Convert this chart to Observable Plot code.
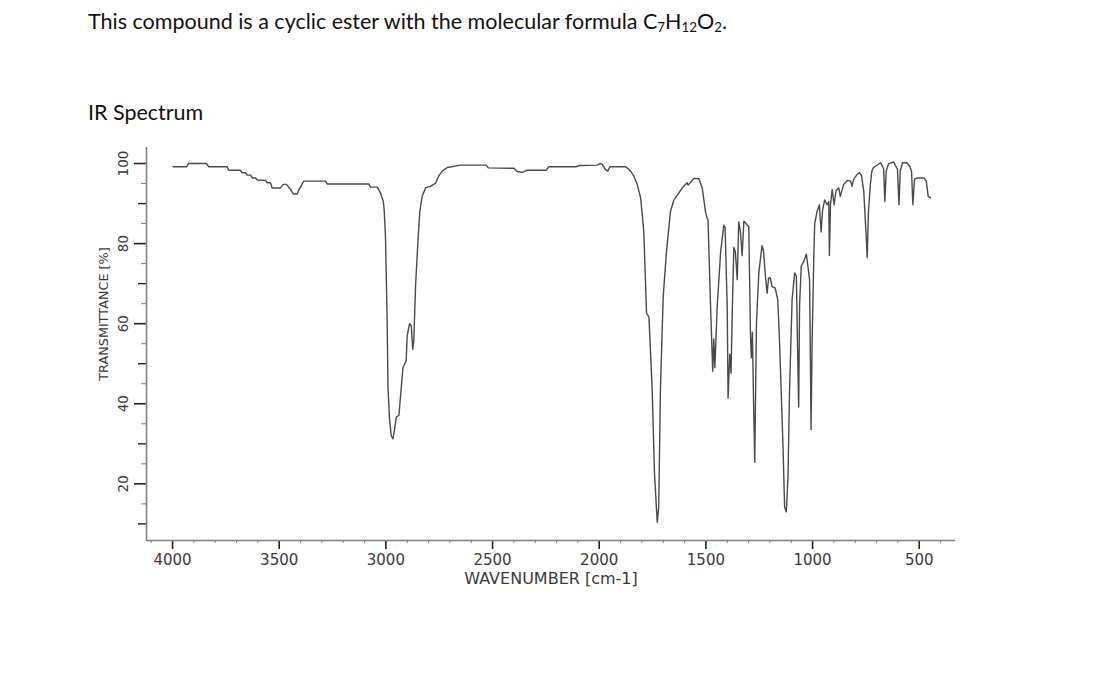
<!DOCTYPE html>
<html>
<head>
<meta charset="utf-8">
<script src="https://cdn.jsdelivr.net/npm/d3@7"></script>
<script src="https://cdn.jsdelivr.net/npm/@observablehq/plot@0.6"></script>
<style>
  html, body { margin: 0; padding: 0; background: #fff; }
  #wrap { position: relative; width: 1100px; height: 679px; overflow: hidden; }
  .hdr { position: absolute; left: 88px; font-family: Lato, "Open Sans", sans-serif; font-size: 21.5px; line-height: 21px; color: #111; white-space: nowrap; }
  .hdr sub { font-size: 0.62em; vertical-align: -0.22em; line-height: 0; }
  #title { top: 11px; }
  #subtitle { top: 102px; }
  #chart { position: absolute; left: 0; top: 140px; }
  #chart svg text { font-family: "DejaVu Sans", sans-serif; }
</style>
</head>
<body>
<div id="wrap">
  <div id="title" class="hdr">This compound is a cyclic ester with the molecular formula C<sub>7</sub>H<sub>12</sub>O<sub>2</sub>.</div>
  <div id="subtitle" class="hdr">IR Spectrum</div>
  <div id="chart"></div>
</div>
<script>
// Wavenumbers (cm-1), high to low
const wavenumbers = [
  3997, 3934, 3925, 3841, 3831, 3744, 3736, 3681, 3673, 3658, 3650, 3634, 3626, 3611, 3603, 3564,
  3556, 3541, 3533, 3494, 3481, 3466, 3447, 3434, 3416, 3403, 3385, 3283, 3275, 3080, 3072, 3040,
  3025, 3012, 3008, 3002, 2994, 2990, 2983, 2975, 2967, 2959, 2951, 2939, 2928, 2920, 2905, 2900,
  2889, 2881, 2874, 2869, 2861, 2850, 2841, 2830, 2814, 2791, 2767, 2752, 2736, 2712, 2650, 2530,
  2520, 2400, 2385, 2360, 2340, 2250, 2235, 2110, 2090, 2010, 1995, 1985, 1972, 1960, 1950, 1875,
  1853, 1838, 1822, 1806, 1798, 1791, 1778, 1767, 1752, 1741, 1728, 1721, 1713, 1700, 1685, 1666,
  1650, 1627, 1611, 1588, 1583, 1556, 1533, 1517, 1502, 1494, 1490, 1478, 1468, 1463, 1458, 1447,
  1431, 1416, 1410, 1400, 1396, 1388, 1382, 1376, 1369, 1362, 1353, 1346, 1338, 1330, 1322, 1315,
  1299, 1291, 1287, 1282, 1276, 1271, 1263, 1252, 1237, 1230, 1221, 1213, 1206, 1198, 1190, 1175,
  1163, 1155, 1139, 1131, 1123, 1115, 1108, 1096, 1084, 1076, 1068, 1065, 1061, 1053, 1040, 1029,
  1022, 1014, 1010, 1007, 1002, 994, 990, 979, 968, 960, 953, 943, 932, 924, 921, 916,
  908, 899, 890, 877, 870, 854, 835, 822, 815, 808, 791, 780, 771, 760, 748, 744,
  738, 729, 722, 714, 695, 681, 667, 661, 655, 644, 620, 611, 602, 595, 589, 578,
  559, 545, 536, 530, 522, 509, 478, 467, 458, 447
];
// Transmittance (%) at each wavenumber above
const transmittance = [
  99.2, 99.2, 100.0, 100.0, 99.2, 99.2, 98.3, 98.3, 97.7, 97.7, 97.1, 97.1, 96.4, 96.4, 95.9, 95.8,
  95.2, 95.2, 93.9, 93.9, 94.8, 94.8, 93.5, 92.4, 92.4, 93.9, 95.6, 95.6, 94.9, 94.9, 94.1, 94.1,
  92.6, 90.5, 88.4, 82.0, 60.8, 43.9, 36.3, 32.0, 31.2, 33.7, 36.7, 37.1, 43.9, 49.0, 50.7, 57.0,
  60.0, 59.5, 53.6, 55.8, 69.3, 80.3, 88.0, 91.8, 93.9, 94.3, 95.1, 96.9, 98.1, 99.0, 99.6, 99.6,
  98.9, 98.8, 98.0, 97.8, 98.3, 98.3, 99.2, 99.2, 99.5, 99.6, 100.0, 99.8, 98.6, 98.1, 99.2, 99.2,
  98.1, 96.9, 94.8, 91.4, 87.1, 82.9, 62.5, 61.7, 43.9, 22.7, 10.4, 14.2, 43.9, 66.8, 77.8, 88.0,
  90.9, 92.6, 93.9, 95.2, 94.6, 96.3, 96.2, 93.9, 88.0, 86.3, 86.0, 64.3, 48.1, 56.2, 49.0, 64.3,
  77.8, 84.6, 84.0, 64.3, 41.4, 52.4, 47.7, 64.0, 79.1, 78.0, 71.0, 85.4, 82.9, 77.0, 85.6, 85.2,
  84.2, 57.5, 51.5, 57.9, 38.8, 25.4, 60.0, 72.7, 79.5, 78.2, 71.9, 67.6, 71.4, 71.4, 69.3, 68.9,
  65.9, 55.8, 30.3, 14.2, 13.0, 21.9, 43.0, 65.9, 72.7, 71.9, 47.3, 39.2, 64.3, 74.4, 75.7, 77.4,
  74.4, 71.0, 50.0, 33.6, 55.8, 77.0, 85.0, 88.0, 89.7, 82.9, 88.4, 90.9, 89.7, 90.5, 77.0, 89.7,
  93.5, 89.7, 93.2, 93.9, 91.8, 94.8, 95.8, 95.6, 94.3, 96.0, 97.3, 97.7, 97.1, 93.1, 81.2, 76.5,
  88.0, 94.8, 98.1, 99.0, 99.7, 100.2, 98.7, 90.5, 98.1, 99.9, 100.4, 99.4, 98.6, 89.7, 98.1, 100.2,
  100.2, 99.4, 98.1, 89.7, 96.1, 96.4, 96.4, 95.6, 91.8, 91.4
];

const xMajorTicks = [4000, 3500, 3000, 2500, 2000, 1500, 1000, 500];
const xMinorTicks = d3.range(400, 4101, 100);
const yMajorTicks = [20, 40, 60, 80, 100];
const yMidTicks = [10, 30, 50, 70, 90];
const yMinorTicks = [15, 25, 35, 45, 55, 65, 75, 85, 95];
const xLabel = "WAVENUMBER [cm-1]";
const yLabel = "TRANSMITTANCE [%]";
const xDomain = [4122, 330];
const yDomain = [5.85, 104];

const spectrum = wavenumbers.map((w, i) => ({ w, t: transmittance[i] }));
const axisColor = "#808080";
const tickColor = "#222";
const textColor = "#3a3a3a";
const font = "DejaVu Sans";
const noText = () => "";

const chart = Plot.plot({
  width: 1100,
  height: 460,
  marginLeft: 146,
  marginRight: 145,
  marginTop: 7,
  marginBottom: 60,
  style: { fontFamily: "'DejaVu Sans', sans-serif", background: "#fff", overflow: "visible" },
  x: { domain: xDomain, axis: null },
  y: { domain: yDomain, axis: null },
  marks: [
    // x axis ticks
    Plot.axisX({ ticks: xMinorTicks, tickSize: 3, tickFormat: noText, stroke: axisColor, strokeWidth: 1, anchor: "bottom", label: null }),
    Plot.axisX({ ticks: xMajorTicks, tickSize: 9, tickPadding: 5, stroke: tickColor, strokeWidth: 1.6, fill: textColor, fontSize: 15, fontFamily: font, anchor: "bottom", label: null, tickFormat: d => String(d) }),
    // y axis ticks
    Plot.axisY({ ticks: yMinorTicks, tickSize: 5, tickFormat: noText, stroke: axisColor, strokeWidth: 1, anchor: "left", label: null }),
    Plot.axisY({ ticks: yMidTicks, tickSize: 8, tickFormat: noText, stroke: tickColor, strokeWidth: 1.4, anchor: "left", label: null }),
    Plot.axisY({ ticks: yMajorTicks, tickSize: 12, tickFormat: noText, stroke: tickColor, strokeWidth: 1.6, anchor: "left", label: null }),
    Plot.text(yMajorTicks, { y: d => d, text: d => String(d), frameAnchor: "left", textAnchor: "middle", lineAnchor: "middle", dx: -23, rotate: -90, fontSize: 13.5, fontFamily: font, fill: textColor }),
    // axis labels
    Plot.text([xLabel], { text: d => d, frameAnchor: "bottom", textAnchor: "middle", dy: 43, fontSize: 16, fontFamily: font, fill: textColor }),
    Plot.text([yLabel], { text: d => d, frameAnchor: "left", textAnchor: "middle", lineAnchor: "middle", dx: -42.5, dy: -30, rotate: -90, fontSize: 12.8, fontFamily: font, fill: textColor }),
    // axis lines
    Plot.ruleY([yDomain[0]], { stroke: axisColor, strokeWidth: 1.6 }),
    Plot.ruleX([xDomain[0]], { stroke: axisColor, strokeWidth: 1.6 }),
    // spectrum
    Plot.line(spectrum, { x: "w", y: "t", stroke: "#4a4a4a", strokeWidth: 1.4, strokeLinejoin: "round" })
  ]
});
document.getElementById("chart").appendChild(chart);
</script>
</body>
</html>
